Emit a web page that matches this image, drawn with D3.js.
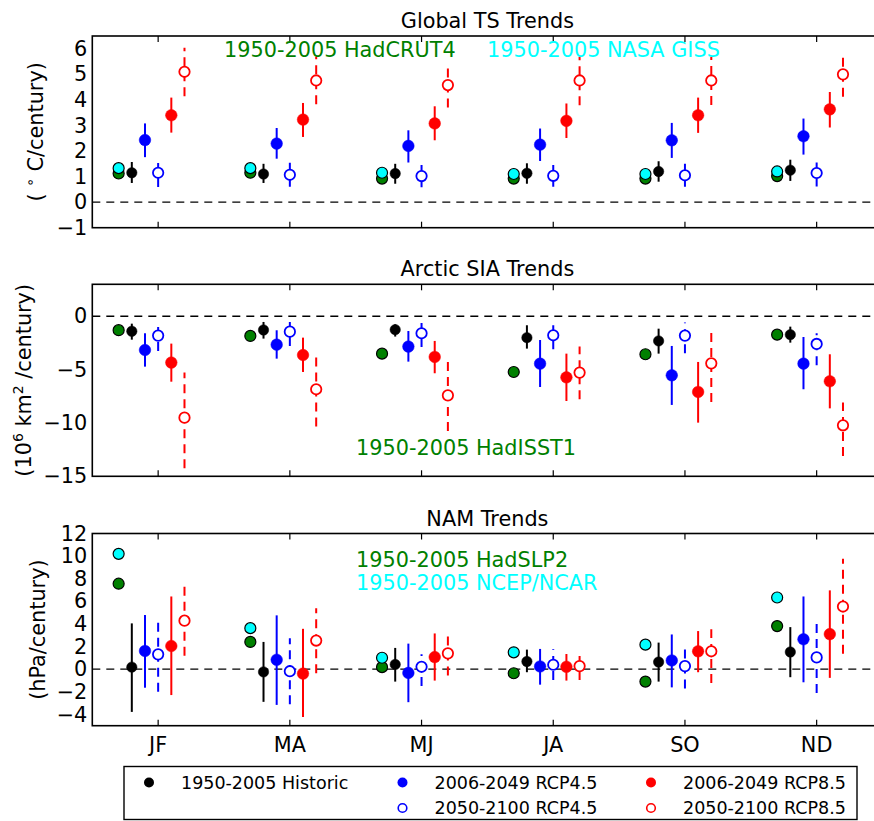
<!DOCTYPE html>
<html>
<head>
<meta charset="utf-8">
<script src="https://cdn.jsdelivr.net/npm/d3@7"></script>
<style>
  html, body { margin: 0; padding: 0; background: #fff; }
  svg { display: block; font-family: "DejaVu Sans", sans-serif; }
</style>
</head>
<body>
<svg id="chart" width="874" height="821"></svg>
<script>
// Seasonal trend summaries: each triple is [mean, low, high]
const seasons = ["JF", "MA", "MJ", "JA", "SO", "ND"];

// Global surface temperature trends (°C/century)
const tsHadCRUT4 = [1.12, 1.15, 0.92, 0.92, 0.92, 1.02];
const tsGISS     = [1.33, 1.33, 1.15, 1.10, 1.10, 1.20];
const tsHist   = [[1.15, 0.75, 1.57], [1.10, 0.75, 1.50], [1.12, 0.72, 1.50], [1.13, 0.72, 1.52], [1.20, 0.80, 1.60], [1.25, 0.83, 1.66]];
const tsR45a   = [[2.43, 1.76, 3.08], [2.29, 1.70, 2.90], [2.20, 1.55, 2.81], [2.25, 1.61, 2.88], [2.42, 1.73, 3.10], [2.58, 1.86, 3.27]];
const tsR45b   = [[1.15, 0.59, 1.70], [1.07, 0.60, 1.55], [1.02, 0.58, 1.45], [1.03, 0.60, 1.45], [1.05, 0.60, 1.50], [1.14, 0.61, 1.63]];
const tsR85a   = [[3.40, 2.72, 4.09], [3.23, 2.55, 3.88], [3.08, 2.42, 3.75], [3.18, 2.51, 3.86], [3.40, 2.71, 4.09], [3.63, 2.92, 4.31]];
const tsR85b   = [[5.10, 4.14, 6.04], [4.76, 3.83, 5.69], [4.58, 3.70, 5.42], [4.76, 3.79, 5.69], [4.76, 3.80, 5.69], [5.00, 4.12, 5.84]];

// Arctic sea ice area trends (10^6 km²/century)
const siaHadISST = [-1.30, -1.84, -3.50, -5.22, -3.56, -1.72];
const siaHist  = [[-1.40, -0.69, -2.19], [-1.28, -0.53, -2.09], [-1.25, -0.75, -1.90], [-2.00, -0.84, -3.03], [-2.31, -1.16, -3.50], [-1.72, -0.97, -2.47]];
const siaR45a  = [[-3.16, -1.59, -4.72], [-2.66, -1.31, -3.97], [-2.84, -1.38, -4.25], [-4.44, -2.22, -6.63], [-5.53, -2.78, -8.31], [-4.44, -1.94, -6.84]];
const siaR45b  = [[-1.81, -0.47, -3.25], [-1.44, -0.19, -2.78], [-1.59, -0.38, -2.88], [-1.78, -0.47, -3.09], [-1.81, -0.59, -3.47], [-2.59, -1.59, -4.59]];
const siaR85a  = [[-4.34, -2.56, -6.13], [-3.63, -2.00, -5.22], [-3.81, -2.31, -5.34], [-5.72, -3.50, -7.94], [-7.09, -4.28, -9.97], [-6.09, -3.56, -8.63]];
const siaR85b  = [[-9.50, -5.28, -14.25], [-6.84, -3.41, -10.34], [-7.41, -4.19, -10.75], [-5.28, -2.84, -7.78], [-4.41, -1.06, -8.03], [-10.22, -8.09, -13.09]];

// Northern Annular Mode trends (hPa/century)
const namHadSLP2 = [7.56, 2.41, 0.18, -0.36, -1.10, 3.81];
const namNCEP    = [10.20, 3.63, 1.01, 1.49, 2.17, 6.34];
const namHist  = [[0.18, -3.78, 4.05], [-0.24, -2.89, 2.41], [0.42, -1.10, 1.88], [0.68, -0.27, 1.73], [0.63, -1.10, 2.35], [1.52, -0.71, 3.72]];
const namR45a  = [[1.61, -1.64, 4.79], [0.83, -3.16, 4.76], [-0.33, -2.92, 2.26], [0.24, -1.37, 1.79], [0.77, -1.61, 3.07], [2.65, -1.16, 6.43]];
const namR45b  = [[1.31, -2.00, 4.59], [-0.18, -3.10, 2.74], [0.21, -1.49, 1.31], [0.39, -0.95, 1.76], [0.27, -1.70, 2.17], [1.04, -2.11, 4.17]];
const namR85a  = [[2.05, -2.29, 6.43], [-0.39, -4.23, 3.57], [1.07, -1.01, 3.16], [0.21, -1.01, 1.34], [1.58, -0.27, 3.37], [3.10, -0.77, 6.97]];
const namR85b  = [[4.29, 1.19, 7.39], [2.53, -0.36, 5.39], [1.40, -0.57, 3.25], [0.27, -0.95, 1.49], [1.58, -1.22, 3.54], [5.54, 1.37, 9.77]];

const tsTicks  = [-1, 0, 1, 2, 3, 4, 5, 6];
const siaTicks = [-15, -10, -5, 0];
const namTicks = [-4, -2, 0, 2, 4, 6, 8, 10, 12];

const legendLabels = ["1950-2005 Historic", "2006-2049 RCP4.5", "2006-2049 RCP8.5", "2050-2100 RCP4.5", "2050-2100 RCP8.5"];

// ---------------------------------------------------------------
const svg = d3.select("#chart");
const GREEN = "#008000", CYAN = "#00ffff", BLUE = "#0000ff", RED = "#ff0000";
const FONT = 20.8;

const x = d3.scaleBand().domain(seasons).range([92.3, 882.5]).padding(0);
const bw = x.bandwidth();
const xc = (s, off) => x(s) + bw / 2 + off * bw;

const fmt = d => d3.format("d")(d);

function drawPanel(p) {
  const y = d3.scaleLinear().domain(p.domain).range([p.bottom, p.top]);
  const g = svg.append("g");
  const left = x.range()[0], right = x.range()[1];

  // title
  g.append("text")
    .attr("x", (left + right) / 2).attr("y", p.titleY)
    .attr("text-anchor", "middle").attr("font-size", FONT)
    .text(p.title);

  // zero reference line
  g.append("line")
    .attr("x1", left).attr("x2", right)
    .attr("y1", y(0)).attr("y2", y(0))
    .attr("stroke", "#000").attr("stroke-width", 1.4)
    .attr("stroke-dasharray", "8,6");

  // y tick labels
  const ya = d3.axisLeft(y).tickValues(p.ticks).tickSize(0).tickPadding(5).tickFormat(fmt);
  const yg = g.append("g").attr("transform", `translate(${left},0)`).call(ya);
  yg.select(".domain").remove();
  yg.selectAll("text").attr("font-size", FONT).attr("font-family", "DejaVu Sans").attr("fill", "#000");

  // x ticks (inward, bottom and top)
  const xbot = g.append("g").attr("transform", `translate(0,${p.bottom})`)
    .call(d3.axisBottom(x).tickSize(-6).tickPadding(12));
  xbot.select(".domain").remove();
  xbot.selectAll("line").attr("stroke", "#000").attr("stroke-width", 1.2);
  if (p.showX) {
    xbot.selectAll("text").attr("font-size", FONT).attr("font-family", "DejaVu Sans").attr("fill", "#000")
      .attr("dy", "0.71em");
  } else {
    xbot.selectAll("text").remove();
  }
  const xtop = g.append("g").attr("transform", `translate(0,${p.top})`)
    .call(d3.axisTop(x).tickSize(-6));
  xtop.select(".domain").remove();
  xtop.selectAll("text").remove();
  xtop.selectAll("line").attr("stroke", "#000").attr("stroke-width", 1.2);

  // error bars + markers
  p.series.forEach(s => {
    const sg = g.append("g");
    seasons.forEach((season, i) => {
      const [m, lo, hi] = s.data[i];
      const cx = xc(season, s.off);
      const bar = sg.append("line")
        .attr("x1", cx).attr("x2", cx)
        .attr("y1", y(Math.min(lo, hi))).attr("y2", y(Math.max(lo, hi)))
        .attr("stroke", s.color).attr("stroke-width", 2);
      if (s.open) bar.attr("stroke-dasharray", "9,6");
      const c = sg.append("circle").attr("cx", cx).attr("cy", y(m));
      if (s.open) {
        c.attr("r", 5.2).attr("fill", "#fff").attr("stroke", s.color).attr("stroke-width", 1.8);
      } else {
        c.attr("r", s.r || 5.8).attr("fill", s.color).attr("stroke", s.color).attr("stroke-width", 0.5);
      }
    });
  });

  // observed estimates (drawn last, black edged)
  p.obs.forEach(o => {
    g.append("g").selectAll("circle").data(o.data).join("circle")
      .attr("cx", (d, i) => xc(seasons[i], -0.3))
      .attr("cy", d => y(d))
      .attr("r", 5.5)
      .attr("fill", o.color).attr("stroke", "#000").attr("stroke-width", 1.2);
  });

  // observational dataset labels
  p.notes.forEach(n => {
    g.append("text").attr("x", n.x).attr("y", n.y)
      .attr("font-size", FONT).attr("fill", n.color).text(n.text);
  });

  // axes frame
  g.append("rect")
    .attr("x", left).attr("y", p.top)
    .attr("width", right - left).attr("height", p.bottom - p.top)
    .attr("fill", "none").attr("stroke", "#000").attr("stroke-width", 1.6);

  // y-axis label
  const yl = svg.append("text")
    .attr("transform", `translate(${p.ylabX},${(p.top + p.bottom) / 2}) rotate(-90)`)
    .attr("text-anchor", "middle").attr("font-size", FONT);
  p.ylab(yl);
}

function seriesSet(hist, r45a, r45b, r85a, r85b) {
  return [
    { data: hist, color: "#000", off: -0.2, r: 5.2 },
    { data: r45a, color: BLUE, off: -0.1 },
    { data: r45b, color: BLUE, off: 0.0, open: true },
    { data: r85a, color: RED, off: 0.1 },
    { data: r85b, color: RED, off: 0.2, open: true }
  ];
}

drawPanel({
  title: "Global TS Trends", titleY: 28,
  top: 36, bottom: 227.7, domain: [-1, 6.5], ticks: tsTicks, showX: false,
  series: seriesSet(tsHist, tsR45a, tsR45b, tsR85a, tsR85b),
  obs: [{ data: tsHadCRUT4, color: GREEN }, { data: tsGISS, color: CYAN }],
  notes: [
    { text: "1950-2005 HadCRUT4", x: 224, y: 57, color: GREEN },
    { text: "1950-2005 NASA GISS", x: 487, y: 57, color: CYAN }
  ],
  ylabX: 43,
  ylab: t => {
    t.append("tspan").text("( ");
    t.append("tspan").attr("font-size", 14).attr("dy", -8).text("∘");
    t.append("tspan").attr("dy", 8).text(" C/century)");
  }
});

drawPanel({
  title: "Arctic SIA Trends", titleY: 276,
  top: 284.3, bottom: 476.3, domain: [-15, 3], ticks: siaTicks, showX: false,
  series: seriesSet(siaHist, siaR45a, siaR45b, siaR85a, siaR85b),
  obs: [{ data: siaHadISST, color: GREEN }],
  notes: [{ text: "1950-2005 HadISST1", x: 356, y: 455, color: GREEN }],
  ylabX: 31,
  ylab: t => {
    t.append("tspan").text("(10");
    t.append("tspan").attr("font-size", 14).attr("dy", -8).text("6");
    t.append("tspan").attr("dy", 8).text("  km");
    t.append("tspan").attr("font-size", 14).attr("dy", -8).text("2");
    t.append("tspan").attr("dy", 8).text(" /century)");
  }
});

drawPanel({
  title: "NAM Trends", titleY: 526,
  top: 533.5, bottom: 725.7, domain: [-5, 12], ticks: namTicks, showX: true,
  series: seriesSet(namHist, namR45a, namR45b, namR85a, namR85b),
  obs: [{ data: namHadSLP2, color: GREEN }, { data: namNCEP, color: CYAN }],
  notes: [
    { text: "1950-2005 HadSLP2", x: 356, y: 567, color: GREEN },
    { text: "1950-2005 NCEP/NCAR", x: 356, y: 590, color: CYAN }
  ],
  ylabX: 45,
  ylab: t => t.text("(hPa/century)")
});

// legend
const lg = svg.append("g");
lg.append("rect").attr("x", 124).attr("y", 766.5).attr("width", 733).attr("height", 53)
  .attr("fill", "#fff").attr("stroke", "#000").attr("stroke-width", 1.4);
const legendItems = [
  { label: legendLabels[0], color: "#000", open: false, col: 0, row: 0 },
  { label: legendLabels[1], color: BLUE, open: false, col: 1, row: 0 },
  { label: legendLabels[2], color: RED, open: false, col: 2, row: 0 },
  { label: legendLabels[3], color: BLUE, open: true, col: 1, row: 1 },
  { label: legendLabels[4], color: RED, open: true, col: 2, row: 1 }
];
const colX = [149, 402.5, 651];
const rowY = [782.5, 808];
legendItems.forEach(it => {
  const cx = colX[it.col], cy = rowY[it.row];
  const c = lg.append("circle").attr("cx", cx).attr("cy", cy).attr("r", it.open ? 4.3 : 5);
  if (it.open) c.attr("fill", "#fff").attr("stroke", it.color).attr("stroke-width", 1.6);
  else c.attr("fill", it.color);
  lg.append("text").attr("x", cx + 32).attr("y", cy + 6)
    .attr("font-size", 17.5).text(it.label);
});
</script>
</body>
</html>
